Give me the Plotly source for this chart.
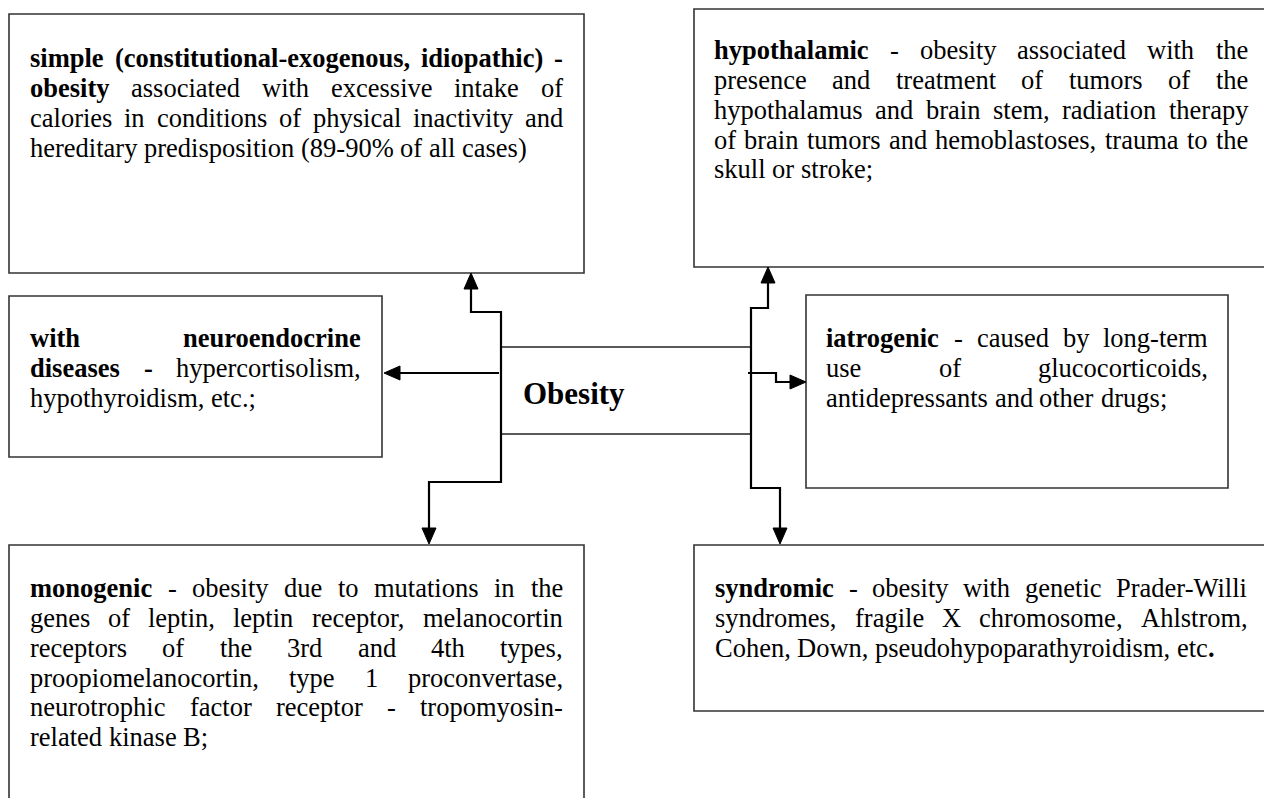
import plotly.graph_objects as go

CANVAS_W, CANVAS_H = 1264, 798
SERIF = "Liberation Serif, Times New Roman, Times, serif"
BODY_SIZE = 26.5
TITLE_SIZE = 31
LINE_STEP = 29.8

# ---- boxes (pixel layout) ----
box_x0 = [9, 694, 9, 806, 9, 694]
box_x1 = [584, 1290, 382, 1228, 584, 1290]
box_y0 = [14, 9, 296, 295, 545, 545]
box_y1 = [273, 267, 457, 488, 830, 711]
text_left = [30, 714, 30, 826, 30, 715]
text_right = [563, 1248, 361, 1208, 563, 1248]
first_line_y = [61, 53, 341, 341, 591, 591]

box_texts = [
    ["<b>simple (constitutional-exogenous, idiopathic) -</b>",
     "<b>obesity</b> associated with excessive intake of",
     "calories in conditions of physical inactivity and",
     "hereditary predisposition (89-90% of all cases)"],
    ["<b>hypothalamic</b> - obesity associated with the",
     "presence and treatment of tumors of the",
     "hypothalamus and brain stem, radiation therapy",
     "of brain tumors and hemoblastoses, trauma to the",
     "skull or stroke;"],
    ["<b>with neuroendocrine</b>",
     "<b>diseases -</b> hypercortisolism,",
     "hypothyroidism, etc.;"],
    ["<b>iatrogenic</b> - caused by long-term",
     "use of glucocorticoids,",
     "antidepressants and other drugs;"],
    ["<b>monogenic</b> - obesity due to mutations in the",
     "genes of leptin, leptin receptor, melanocortin",
     "receptors of the 3rd and 4th types,",
     "proopiomelanocortin, type 1 proconvertase,",
     "neurotrophic factor receptor - tropomyosin-",
     "related kinase B;"],
    ["<b>syndromic</b> - obesity with genetic Prader-Willi",
     "syndromes, fragile X chromosome, Ahlstrom,",
     "Cohen, Down, pseudohypoparathyroidism, etc<b>.</b>"],
]

center_label = "Obesity"
center_xy = (574, 393)

# hub and connectors
hub_x = [501, 751]
hub_y = [347, 434]
link_paths = [
    [(471, 289), (471, 312), (501, 312), (501, 482), (429, 482), (429, 528)],
    [(768, 283), (768, 308), (751, 308), (751, 488), (780, 488), (780, 528)],
    [(499, 373), (400, 373)],
    [(748, 373), (776, 373), (776, 382), (790, 382)],
]
arrow_tips = [(471, 273, "up"), (429, 544, "down"), (768, 267, "up"),
              (780, 544, "down"), (384, 373, "left"), (806, 382, "right")]
HEAD_LEN, HEAD_HALF = 16, 7

# ---- Times metrics (per 1000 em) ----
REG = {" ": 250, "%": 833, "(": 333, ")": 333, ",": 250, "-": 333, ".": 250, ";": 278, ":": 278}
BOLD = {" ": 250, "%": 1000, "(": 333, ")": 333, ",": 250, "-": 333, ".": 250, ";": 333, ":": 333}
for d in "0123456789":
    REG[d] = 500
    BOLD[d] = 500
REG.update(dict(zip("ABCDEFGHIJKLMNOPQRSTUVWXYZ",
    [722, 667, 667, 722, 611, 556, 722, 722, 333, 389, 722, 611, 889, 722, 722, 556, 722, 667, 556, 611, 722, 722, 944, 722, 722, 611])))
REG.update(dict(zip("abcdefghijklmnopqrstuvwxyz",
    [444, 500, 444, 500, 444, 333, 500, 500, 278, 278, 500, 278, 778, 500, 500, 500, 500, 333, 389, 278, 500, 500, 722, 500, 500, 444])))
BOLD.update(dict(zip("ABCDEFGHIJKLMNOPQRSTUVWXYZ",
    [722, 667, 722, 722, 667, 611, 778, 778, 389, 500, 778, 667, 944, 722, 778, 611, 778, 722, 556, 667, 722, 722, 1000, 722, 722, 667])))
BOLD.update(dict(zip("abcdefghijklmnopqrstuvwxyz",
    [500, 556, 444, 556, 444, 333, 500, 556, 278, 333, 556, 278, 833, 556, 500, 556, 556, 444, 389, 333, 556, 500, 722, 500, 500, 444])))


def parse_line(s):
    chars, bold, i = [], False, 0
    while i < len(s):
        if s.startswith("<b>", i):
            bold, i = True, i + 3
        elif s.startswith("</b>", i):
            bold, i = False, i + 4
        else:
            chars.append((s[i], bold))
            i += 1
    words, cur = [], []
    for ch, b in chars:
        if ch == " ":
            if cur:
                words.append(cur)
            cur = []
        else:
            cur.append((ch, b))
    if cur:
        words.append(cur)
    return words


def word_html(w):
    out, state = "", False
    for ch, b in w:
        if b and not state:
            out += "<b>"
        if not b and state:
            out += "</b>"
        state = b
        out += ch
    if state:
        out += "</b>"
    return out


def word_width(w, size):
    return sum((BOLD if b else REG).get(ch, 500) for ch, b in w) * size / 1000.0


fig = go.Figure()
fig.add_trace(go.Scatter(x=[0, CANVAS_W], y=[0, CANVAS_H], mode="markers",
                         marker=dict(opacity=0), hoverinfo="skip", showlegend=False))

shapes = []
for x0, x1, y0, y1 in zip(box_x0, box_x1, box_y0, box_y1):
    shapes.append(dict(type="rect", xref="x", yref="y", x0=x0, x1=x1, y0=y0, y1=y1,
                       line=dict(color="#333333", width=1.6), fillcolor="rgba(0,0,0,0)"))

for hy in hub_y:
    shapes.append(dict(type="line", xref="x", yref="y", x0=hub_x[0], x1=hub_x[1], y0=hy, y1=hy,
                       line=dict(color="#222222", width=1.4)))

for pts in link_paths:
    d = "M " + " L ".join(f"{px},{py}" for px, py in pts)
    shapes.append(dict(type="path", xref="x", yref="y", path=d,
                       line=dict(color="black", width=2.2)))

for tx, ty, direction in arrow_tips:
    if direction == "up":
        p = [(tx, ty), (tx - HEAD_HALF, ty + HEAD_LEN), (tx + HEAD_HALF, ty + HEAD_LEN)]
    elif direction == "down":
        p = [(tx, ty), (tx - HEAD_HALF, ty - HEAD_LEN), (tx + HEAD_HALF, ty - HEAD_LEN)]
    elif direction == "left":
        p = [(tx, ty), (tx + HEAD_LEN, ty - HEAD_HALF), (tx + HEAD_LEN, ty + HEAD_HALF)]
    else:
        p = [(tx, ty), (tx - HEAD_LEN, ty - HEAD_HALF), (tx - HEAD_LEN, ty + HEAD_HALF)]
    d = "M " + " L ".join(f"{px},{py}" for px, py in p) + " Z"
    shapes.append(dict(type="path", xref="x", yref="y", path=d, fillcolor="black",
                       line=dict(color="black", width=1)))

annotations = []
for bi, lines in enumerate(box_texts):
    left, right = text_left[bi], text_right[bi]
    for li, line in enumerate(lines):
        words = parse_line(line)
        widths = [word_width(w, BODY_SIZE) for w in words]
        last = li == len(lines) - 1
        if not last and len(words) > 1:
            gap = (right - left - sum(widths)) / (len(words) - 1)
        else:
            gap = 250 * BODY_SIZE / 1000.0
        y = first_line_y[bi] + li * LINE_STEP - 0.1075 * BODY_SIZE
        x = left
        for w, wd in zip(words, widths):
            annotations.append(dict(x=x, y=y, xref="x", yref="y", text=word_html(w),
                                    showarrow=False, xanchor="left", yanchor="middle",
                                    borderpad=0, borderwidth=0,
                                    font=dict(family=SERIF, size=BODY_SIZE, color="black")))
            x += wd + gap

annotations.append(dict(x=center_xy[0], y=center_xy[1], xref="x", yref="y",
                        text=f"<b>{center_label}</b>", showarrow=False,
                        xanchor="center", yanchor="middle", borderpad=0, borderwidth=0,
                        font=dict(family=SERIF, size=TITLE_SIZE, color="black")))

fig.update_layout(
    width=CANVAS_W, height=CANVAS_H,
    margin=dict(l=0, r=0, t=0, b=0, pad=0),
    paper_bgcolor="white", plot_bgcolor="white",
    xaxis=dict(range=[0, CANVAS_W], visible=False, fixedrange=True),
    yaxis=dict(range=[CANVAS_H, 0], visible=False, fixedrange=True),
    shapes=shapes, annotations=annotations, showlegend=False,
)

fig.write_html("out.html", config={"displayModeBar": False},
               post_script="document.body.style.margin='0';document.documentElement.style.overflow='hidden';")
